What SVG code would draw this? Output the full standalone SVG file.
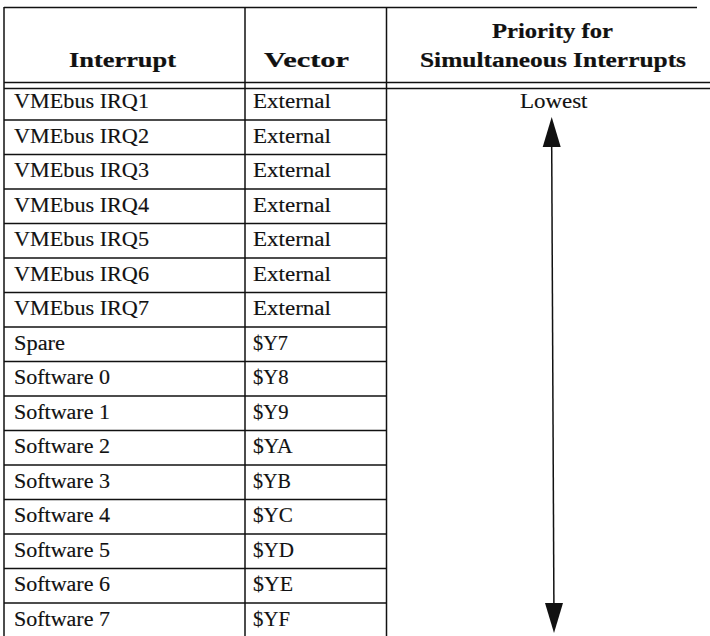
<svg xmlns="http://www.w3.org/2000/svg" width="710" height="636" viewBox="0 0 710 636">
<style>
.g{stroke:#111;stroke-width:1.5;fill:none}
.t{font-family:"Liberation Serif","Times New Roman",serif;font-size:20.5px;fill:#111;stroke:#111;stroke-width:0.15}
.h{font-family:"Liberation Serif","Times New Roman",serif;font-size:20.5px;font-weight:bold;fill:#111;stroke:#111;stroke-width:0.2}
.c{fill:#111}
</style>
<rect width="710" height="636" fill="#fff"/>
<g id="grid" class="g">
<line x1="4" y1="7.5" x2="697" y2="7.5"/>
<line x1="4" y1="7" x2="4" y2="636"/>
<line x1="245" y1="7" x2="245" y2="636"/>
<line x1="386.5" y1="7" x2="386.5" y2="636"/>
<line x1="4" y1="82.5" x2="710" y2="82.5"/>
<line x1="4" y1="88.5" x2="710" y2="88.5"/>
<line x1="4" y1="120" x2="386.5" y2="120"/>
<line x1="4" y1="154.5" x2="386.5" y2="154.5"/>
<line x1="4" y1="189" x2="386.5" y2="189"/>
<line x1="4" y1="223.5" x2="386.5" y2="223.5"/>
<line x1="4" y1="258" x2="386.5" y2="258"/>
<line x1="4" y1="292.5" x2="386.5" y2="292.5"/>
<line x1="4" y1="327" x2="386.5" y2="327"/>
<line x1="4" y1="361.5" x2="386.5" y2="361.5"/>
<line x1="4" y1="396" x2="386.5" y2="396"/>
<line x1="4" y1="430.5" x2="386.5" y2="430.5"/>
<line x1="4" y1="465" x2="386.5" y2="465"/>
<line x1="4" y1="499.5" x2="386.5" y2="499.5"/>
<line x1="4" y1="534" x2="386.5" y2="534"/>
<line x1="4" y1="568.5" x2="386.5" y2="568.5"/>
<line x1="4" y1="603" x2="386.5" y2="603"/>
</g>
<g id="header">
<text class="h" x="69" y="67" textLength="107" lengthAdjust="spacingAndGlyphs">Interrupt</text>
<text class="h" x="264" y="67" textLength="85" lengthAdjust="spacingAndGlyphs">Vector</text>
<text class="h" x="492" y="37.5" textLength="121" lengthAdjust="spacingAndGlyphs">Priority for</text>
<text class="h" x="420" y="67" textLength="266" lengthAdjust="spacingAndGlyphs">Simultaneous Interrupts</text>
</g>
<g id="row1"><text class="t" x="14" y="108" textLength="135" lengthAdjust="spacingAndGlyphs">VMEbus IRQ1</text><text class="t" x="253" y="108" textLength="78" lengthAdjust="spacingAndGlyphs">External</text></g>
<g id="row2"><text class="t" x="14" y="142.5" textLength="135" lengthAdjust="spacingAndGlyphs">VMEbus IRQ2</text><text class="t" x="253" y="142.5" textLength="78" lengthAdjust="spacingAndGlyphs">External</text></g>
<g id="row3"><text class="t" x="14" y="177" textLength="135" lengthAdjust="spacingAndGlyphs">VMEbus IRQ3</text><text class="t" x="253" y="177" textLength="78" lengthAdjust="spacingAndGlyphs">External</text></g>
<g id="row4"><text class="t" x="14" y="211.5" textLength="135" lengthAdjust="spacingAndGlyphs">VMEbus IRQ4</text><text class="t" x="253" y="211.5" textLength="78" lengthAdjust="spacingAndGlyphs">External</text></g>
<g id="row5"><text class="t" x="14" y="246" textLength="135" lengthAdjust="spacingAndGlyphs">VMEbus IRQ5</text><text class="t" x="253" y="246" textLength="78" lengthAdjust="spacingAndGlyphs">External</text></g>
<g id="row6"><text class="t" x="14" y="280.5" textLength="135" lengthAdjust="spacingAndGlyphs">VMEbus IRQ6</text><text class="t" x="253" y="280.5" textLength="78" lengthAdjust="spacingAndGlyphs">External</text></g>
<g id="row7"><text class="t" x="14" y="315" textLength="135" lengthAdjust="spacingAndGlyphs">VMEbus IRQ7</text><text class="t" x="253" y="315" textLength="78" lengthAdjust="spacingAndGlyphs">External</text></g>
<g id="row8"><text class="t" x="14" y="349.5" textLength="51" lengthAdjust="spacingAndGlyphs">Spare</text><text class="t" x="253" y="349.5" textLength="35" lengthAdjust="spacingAndGlyphs">$Y7</text></g>
<g id="row9"><text class="t" x="14" y="384" textLength="96" lengthAdjust="spacingAndGlyphs">Software 0</text><text class="t" x="253" y="384" textLength="35.5" lengthAdjust="spacingAndGlyphs">$Y8</text></g>
<g id="row10"><text class="t" x="14" y="418.5" textLength="96" lengthAdjust="spacingAndGlyphs">Software 1</text><text class="t" x="253" y="418.5" textLength="35.5" lengthAdjust="spacingAndGlyphs">$Y9</text></g>
<g id="row11"><text class="t" x="14" y="453" textLength="96" lengthAdjust="spacingAndGlyphs">Software 2</text><text class="t" x="253" y="453" textLength="39.5" lengthAdjust="spacingAndGlyphs">$YA</text></g>
<g id="row12"><text class="t" x="14" y="487.5" textLength="96" lengthAdjust="spacingAndGlyphs">Software 3</text><text class="t" x="253" y="487.5" textLength="38" lengthAdjust="spacingAndGlyphs">$YB</text></g>
<g id="row13"><text class="t" x="14" y="522" textLength="96" lengthAdjust="spacingAndGlyphs">Software 4</text><text class="t" x="253" y="522" textLength="40" lengthAdjust="spacingAndGlyphs">$YC</text></g>
<g id="row14"><text class="t" x="14" y="556.5" textLength="96" lengthAdjust="spacingAndGlyphs">Software 5</text><text class="t" x="253" y="556.5" textLength="41" lengthAdjust="spacingAndGlyphs">$YD</text></g>
<g id="row15"><text class="t" x="14" y="591" textLength="96" lengthAdjust="spacingAndGlyphs">Software 6</text><text class="t" x="253" y="591" textLength="40" lengthAdjust="spacingAndGlyphs">$YE</text></g>
<g id="row16"><text class="t" x="14" y="625.5" textLength="96" lengthAdjust="spacingAndGlyphs">Software 7</text><text class="t" x="253" y="625.5" textLength="37" lengthAdjust="spacingAndGlyphs">$YF</text></g>
<g id="lowest"><text class="t" x="520" y="108" textLength="67.5" lengthAdjust="spacingAndGlyphs">Lowest</text></g>
<g id="connectors">
<line class="g" x1="551.7" y1="146" x2="553.9" y2="604"/>
<polygon class="c" points="551.7,117 542.7,147 560.7,147"/>
<polygon class="c" points="545,603 563,603 554,633"/>
</g>
</svg>
